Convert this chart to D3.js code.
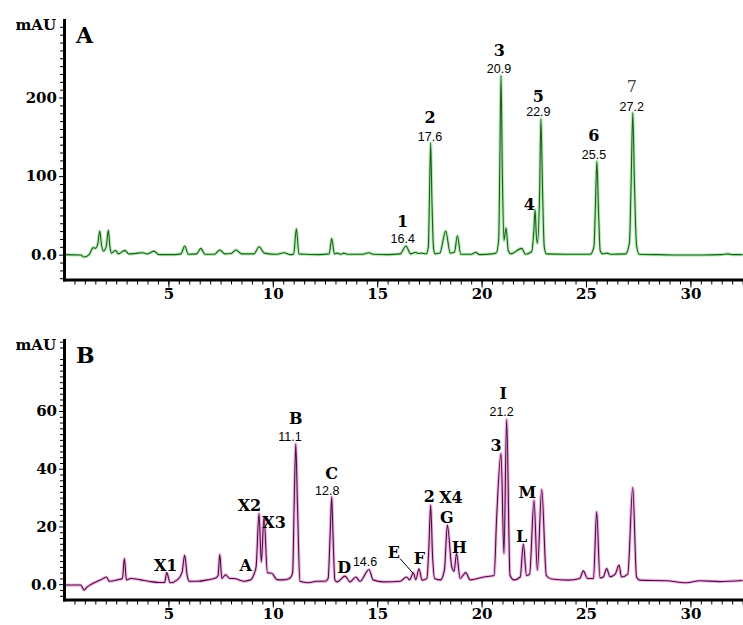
<!DOCTYPE html>
<html>
<head>
<meta charset="utf-8">
<script src="https://cdn.jsdelivr.net/npm/d3@7"></script>
<style>
  body { margin: 0; background: #fff; }
  svg { display: block; }
  .tick text { font-family: "DejaVu Serif", serif; font-weight: bold; font-size: 15px; fill: #000; }
  .tick line { stroke: #000; stroke-width: 1; }
  .domain { stroke: #000; stroke-width: 3; stroke-linecap: square; }
</style>
</head>
<body>
<div id="chart"></div>
<script>
  // ---- chromatogram A: retention time (min) / absorbance (mAU)
  const timeA = [0, 0.8, 0.96, 1.2, 1.4, 1.5, 1.62, 1.71, 1.8, 1.88, 2.02, 2.12, 2.2, 2.27, 2.47, 2.6, 2.92, 3.1, 3.4, 3.75,
    4.0, 4.31, 4.55, 5.3, 5.6, 5.78, 5.95, 6.35, 6.55, 6.75, 7.2, 7.46, 7.7, 8.0, 8.24, 8.5, 9.1, 9.34, 9.6, 10.2,
    10.54, 10.85, 11.0, 11.13, 11.25, 11.6, 12.2, 12.7, 12.82, 12.95, 13.1, 13.25, 13.4, 13.6, 14.3, 14.6, 14.8, 15.5, 16.1, 16.38,
    16.6, 16.85, 16.95, 17.1, 17.35, 17.45, 17.5, 17.56, 17.62, 17.7, 17.77, 18.0, 18.28, 18.5, 18.7, 18.84, 19.0, 19.5, 19.72, 19.9,
    20.5, 20.7, 20.82, 20.87, 20.93, 20.99, 21.07, 21.17, 21.28, 21.4, 21.92, 22.1, 22.4, 22.5, 22.56, 22.62, 22.67, 22.78, 22.84, 22.92,
    23.0, 23.1, 24.0, 25.2, 25.38, 25.45, 25.52, 25.6, 25.68, 25.8, 26.0, 26.2, 26.9, 27.08, 27.16, 27.24, 27.32, 27.42, 27.55, 28.5,
    29.5, 30.5, 31.5, 31.8, 32.0, 32.5];
  const signalA = [0, -0.5, -3, 0, 9, 8, 14, 30, 12, 4.5, 10, 31, 10, 2, 5.5, 1, 5.5, 1, 1.5, 2.5,
    1, 4.5, 0, 0, 1, 11, 0.5, 1, 8, 0.5, 0.5, 6, 1, 1.5, 6, 1, 1, 10, 2, 0.5,
    2.5, 0, 1, 33, 1, 0.5, 0, 1, 20.5, 1, 2, 0.5, 2, 0.5, 0.5, 2.5, 0.5, 0, 1, 11,
    1, 3, 1.5, 2, 1, 10, 70, 142, 70, 8, 1, 2, 30, 2, 3, 24, 0.5, 0.5, 3, 0,
    1, 2, 20, 110, 228, 110, 18, 34, 5, 1, 8, 0.5, 4, 30, 57, 25, 14.5, 80, 173, 80,
    10, 1, 0.5, 0.5, 10, 60, 119, 55, 5, 1, 2, 0.5, 1, 15, 90, 181, 90, 12, 0.5, 0,
    -0.5, -0.5, 0, 1, 0, 0];

  // ---- chromatogram B
  const timeB = [0, 0.8, 0.96, 1.1, 1.45, 1.76, 2.04, 2.16, 2.55, 2.8, 2.89, 2.99, 3.2, 3.67, 4.07, 4.55, 4.82, 4.92, 5.08, 5.43,
    5.65, 5.78, 5.9, 6.0, 6.4, 6.88, 7.28, 7.38, 7.46, 7.56, 7.74, 7.93, 8.14, 8.6, 8.93, 9.1, 9.2, 9.34, 9.45, 9.58,
    9.74, 9.95, 10.2, 10.5, 10.8, 10.95, 11.03, 11.1, 11.18, 11.3, 11.7, 12.1, 12.5, 12.65, 12.75, 12.82, 12.88, 12.97, 13.07, 13.46,
    13.7, 13.98, 14.17, 14.61, 14.8, 15.3, 16.1, 16.4, 16.55, 16.73, 16.85, 17.0, 17.15, 17.38, 17.47, 17.56, 17.65, 17.75, 18.03, 18.22,
    18.36, 18.57, 18.68, 18.8, 18.97, 19.24, 19.45, 20.1, 20.6, 20.72, 20.93, 21.07, 21.2, 21.36, 21.55, 21.85, 22.0, 22.15, 22.3, 22.51,
    22.67, 22.88, 23.1, 23.35, 24.15, 24.7, 24.87, 25.07, 25.36, 25.51, 25.67, 25.83, 25.99, 26.15, 26.4, 26.58, 26.7, 27.0, 27.24, 27.42,
    27.58, 28.85, 29.8, 30.45, 31.4, 32.5];
  const signalB = [-0.3, -0.3, -2, -1, 0.5, 1.5, 2.5, 1, 1.5, 2, 8.9, 1.5, 2, 1.5, 1, 0.6, 0.6, 4, 0.5, 1.5,
    4, 10, 3, 1, 1, 1.5, 2.2, 3, 10.3, 2, 3.3, 2, 2, 1, 1.5, 3.5, 6, 24.5, 7.7, 23.3,
    4, 3.8, 1.6, 1.5, 2, 4, 30, 48.6, 28, 1, 0.5, 1, 1, 2, 18, 30.3, 18, 1.5, 0.8, 2.8,
    0.8, 2.5, 1, 5.1, 1.5, 0.8, 1, 2.5, 1.5, 3.9, 1.6, 5.3, 1.4, 2, 12, 27.4, 10, 2, 1.5, 5,
    20.5, 6, 4.5, 10.6, 2, 4, 1.5, 2.5, 3, 23, 45.3, 10.6, 57, 3.1, 1.5, 2.5, 13.9, 3, 3.5, 29.1,
    4.9, 32.8, 3, 1.8, 1.4, 2, 4.6, 2, 2, 25.1, 2.2, 2.5, 5.4, 2.6, 3.5, 6.6, 2.5, 3.5, 33.5, 2.5,
    1.4, 1.2, 0.5, 1.2, 0.9, 1.3];

  // ---- peak annotations (text, time, mAU, style: b = bold serif, r = retention time, t = thin serif)
  const labelTextA = ["1", "16.4", "2", "17.6", "3", "20.9", "4", "5", "22.9", "6", "25.5", "7", "27.2"];
  const labelTimeA = [16.22, 16.22, 17.53, 17.53, 20.85, 20.83, 22.28, 22.72, 22.72, 25.38, 25.38, 27.19, 27.19];
  const labelValA  = [42.5, 20.5, 175.5, 151, 260.5, 237.6, 64.3, 202, 182.8, 152.2, 128, 214.6, 189.2];
  const labelKindA = ["b", "r", "b", "r", "b", "r", "b", "b", "r", "b", "r", "t", "r"];

  const labelTextB = ["X1", "A", "X2", "X3", "B", "11.1", "C", "12.8", "D", "14.6", "E", "F", "2", "X4", "G", "H", "I", "21.2", "3", "M", "L"];
  const labelTimeB = [4.87, 8.70, 8.88, 10.06, 11.10, 10.82, 12.82, 12.61, 13.42, 14.42, 15.80, 17.02, 17.50, 18.53, 18.33, 18.93, 21.04, 20.96, 20.69, 22.19, 21.92];
  const labelValB  = [6.6, 6.6, 27.4, 21.6, 57.5, 51.1, 38.4, 32.4, 6.0, 7.7, 11.0, 9.1, 30.3, 30.1, 23.2, 12.9, 66.1, 60.0, 48.2, 32.0, 16.6];
  const labelKindB = ["b", "b", "b", "b", "b", "r", "b", "r", "b", "r", "b", "b", "b", "b", "b", "b", "b", "r", "b", "b", "b"];
  const leaderB = [[16.09, 8.9], [16.73, 3.7]];

  const xTicks = [5, 10, 15, 20, 25, 30];
  const yTicksA = [0, 100, 200];
  const yTicksB = [0, 20, 40, 60];

  const svg = d3.select("#chart").append("svg")
    .attr("width", 743)
    .attr("height", 625);

  function drawPanel(p) {
    const x = d3.scaleLinear().domain([0, 32.5]).range([64, 742.6]);
    const y = d3.scaleLinear().domain(p.yDomain).range([p.bottom, p.top]);
    const g = svg.append("g");

    const pts = p.time.map((t, i) => [t, p.signal[i]]);
    const line = d3.line()
      .x(d => x(d[0]))
      .y(d => y(d[1]))
      .curve(d3.curveMonotoneX);

    // light halo under the trace, then the trace itself
    g.append("path").datum(pts)
      .attr("d", line)
      .attr("fill", "none")
      .attr("stroke", p.halo)
      .attr("stroke-width", 3.2)
      .attr("stroke-linejoin", "round");
    g.append("path").datum(pts)
      .attr("d", line)
      .attr("fill", "none")
      .attr("stroke", p.color)
      .attr("stroke-width", 1.1)
      .attr("stroke-linejoin", "round");

    // minor ticks
    g.append("g")
      .attr("transform", "translate(64,0)")
      .call(d3.axisLeft(y).tickValues(p.yMinor).tickSize(4).tickFormat(""))
      .select(".domain").remove();
    g.append("g")
      .attr("transform", `translate(0,${p.bottom})`)
      .call(d3.axisBottom(x).tickValues(d3.range(0.5, 32.6, 0.5)).tickSize(5).tickFormat(""))
      .select(".domain").remove();

    // main axes
    g.append("g")
      .attr("transform", "translate(64,0)")
      .call(d3.axisLeft(y).tickValues(p.yTicks).tickSize(5).tickSizeOuter(0).tickPadding(2)
        .tickFormat(d => d === 0 ? "0.0" : d));
    g.append("g")
      .attr("transform", `translate(0,${p.bottom})`)
      .call(d3.axisBottom(x).tickValues(xTicks).tickSize(8).tickSizeOuter(0).tickPadding(1));

    // unit + panel letter
    g.append("text")
      .attr("x", 56).attr("y", p.top + 10)
      .attr("text-anchor", "end")
      .style("font-family", "DejaVu Serif, serif")
      .style("font-weight", "bold")
      .style("font-size", "15px")
      .text("mAU");
    g.append("text")
      .attr("x", 76).attr("y", p.top + 23)
      .style("font-family", "DejaVu Serif, serif")
      .style("font-weight", "bold")
      .style("font-size", "22px")
      .text(p.letter);

    // peak labels
    g.selectAll("text.peak")
      .data(p.labelText.map((s, i) => ({ s: s, t: p.labelTime[i], v: p.labelVal[i], k: p.labelKind[i] })))
      .join("text")
        .attr("class", "peak")
        .attr("x", d => x(d.t))
        .attr("y", d => y(d.v))
        .attr("dy", "0.36em")
        .attr("text-anchor", "middle")
        .style("font-family", d => d.k === "r" ? "Liberation Sans, Arial, sans-serif" : "DejaVu Serif, serif")
        .style("font-weight", d => d.k === "b" ? "bold" : "normal")
        .style("font-size", d => d.k === "r" ? "12.5px" : "16px")
        .style("fill", d => d.k === "t" ? "#444" : "#000")
        .text(d => d.s);

    if (p.leader) {
      g.append("path")
        .datum(p.leader)
        .attr("d", d3.line().x(d => x(d[0])).y(d => y(d[1])))
        .attr("stroke", "#000")
        .attr("stroke-width", 1);
    }
  }

  drawPanel({
    time: timeA, signal: signalA, letter: "A",
    top: 20, bottom: 279.5, yDomain: [-31.6, 298.7],
    yTicks: yTicksA, yMinor: d3.range(-30, 300, 10).filter(v => v % 100 !== 0),
    color: "#1d5c1d", halo: "#b4ecb4",
    labelText: labelTextA, labelTime: labelTimeA, labelVal: labelValA, labelKind: labelKindA
  });

  drawPanel({
    time: timeB, signal: signalB, letter: "B",
    top: 340, bottom: 599.5, yDomain: [-5.3, 84.6],
    yTicks: yTicksB, yMinor: d3.range(-4, 85, 2).filter(v => v % 20 !== 0),
    color: "#4a0f3e", halo: "#f0b4e4",
    labelText: labelTextB, labelTime: labelTimeB, labelVal: labelValB, labelKind: labelKindB,
    leader: leaderB
  });
</script>
</body>
</html>
